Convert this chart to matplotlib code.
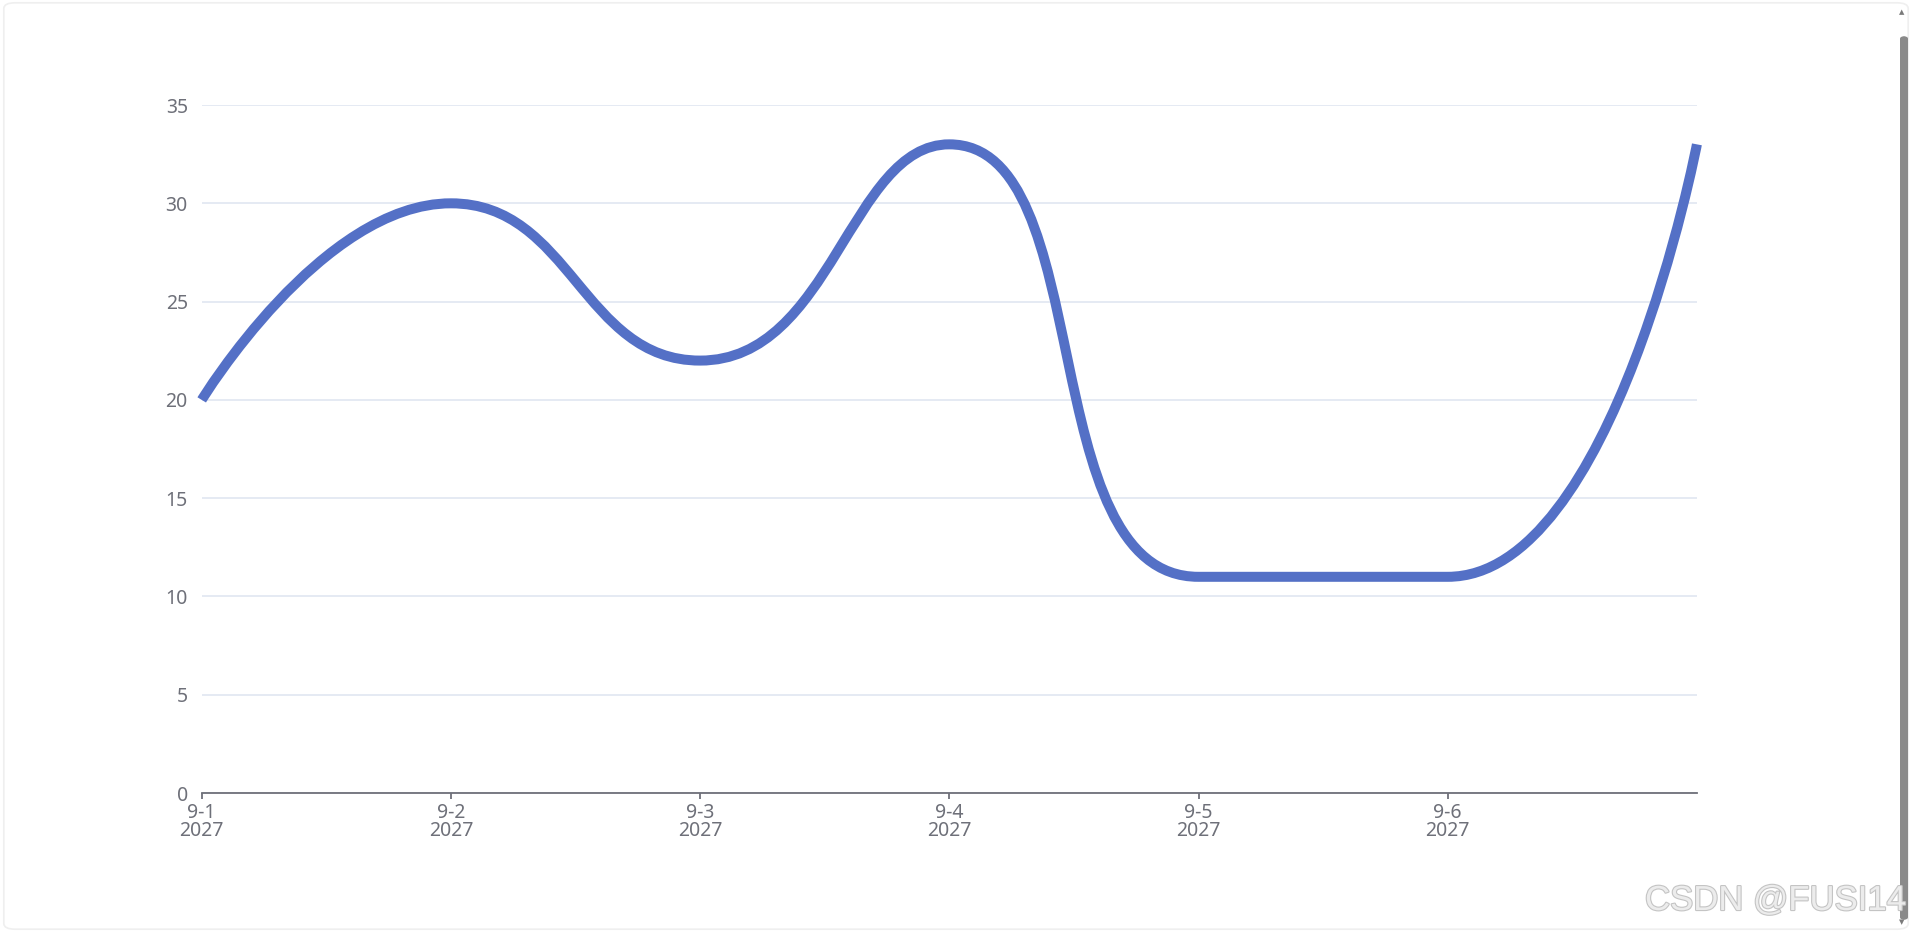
'''
plot.py
Smooth line chart (echarts style) for 9-1 .. 9-7 2027
'''

import numpy as np
import matplotlib.pyplot as plt
from matplotlib.path import Path
from matplotlib.patches import PathPatch, FancyBboxPatch
import matplotlib.patheffects as pe

plt.rcParams['font.family'] = ['Noto Sans', 'DejaVu Sans']

# Data
days = ['9-1', '9-2', '9-3', '9-4', '9-5', '9-6', '9-7']
year = '2027'
values = [20, 30, 22, 33, 11, 11, 33]
y_ticks = [0, 5, 10, 15, 20, 25, 30, 35]

LINE_COLOR = '#5470c6'
AXIS_COLOR = '#6e7079'
GRID_COLOR = '#e0e6f1'
SMOOTH = 0.5


# Echarts-like bezier smoothing, done in pixel space so lengths are right
def smooth_path(xs, ys, sx, sy, smooth=SMOOTH):
	px = np.asarray(xs, float) * sx
	py = np.asarray(ys, float) * sy
	n = len(px)
	verts = [(px[0], py[0])]
	codes = [Path.MOVETO]
	cp0x, cp0y = px[0], py[0]
	for i in range(1, n):
		x, y = px[i], py[i]
		prevX, prevY = px[i - 1], py[i - 1]
		if i == n - 1:
			cp1x, cp1y = x, y
			nxt0x, nxt0y = x, y
		else:
			nextX, nextY = px[i + 1], py[i + 1]
			vx = nextX - prevX
			vy = nextY - prevY
			lenPrev = np.hypot(x - prevX, y - prevY)
			lenNext = np.hypot(nextX - x, nextY - y)
			ratio = lenNext / (lenNext + lenPrev)
			nxt0x = x + vx * smooth * ratio
			nxt0y = y + vy * smooth * ratio
			nxt0x = max(min(nxt0x, max(nextX, x)), min(nextX, x))
			nxt0y = max(min(nxt0y, max(nextY, y)), min(nextY, y))
			vx = nxt0x - x
			vy = nxt0y - y
			cp1x = x - vx * lenPrev / lenNext
			cp1y = y - vy * lenPrev / lenNext
			cp1x = max(min(cp1x, max(prevX, x)), min(prevX, x))
			cp1y = max(min(cp1y, max(prevY, y)), min(prevY, y))
			vx = x - cp1x
			vy = y - cp1y
			nxt0x = x + vx * lenNext / lenPrev
			nxt0y = y + vy * lenNext / lenPrev
		verts += [(cp0x, cp0y), (cp1x, cp1y), (x, y)]
		codes += [Path.CURVE4] * 3
		cp0x, cp0y = nxt0x, nxt0y
	verts = np.array(verts)
	verts[:, 0] /= sx
	verts[:, 1] /= sy
	return Path(verts, codes)


fig = plt.figure(figsize=(19.12, 9.32), dpi=100)
ax = fig.add_axes([0.1055, 0.1491, 0.7820, 0.7382])

xs = np.arange(len(days))
ax.set_xlim(0, len(days) - 1)
ax.set_ylim(0, 35)

# pixel size of one data unit
sx = 0.7820 * 1912 / (len(days) - 1)
sy = 0.7382 * 932 / 35

path = smooth_path(xs, values, sx, sy)
ax.add_patch(PathPatch(path, fill=False, edgecolor=LINE_COLOR, linewidth=7.2,
	capstyle='butt', joinstyle='round', zorder=3, clip_on=False))

# axes styling
for s in ['top', 'right', 'left']:
	ax.spines[s].set_visible(False)
ax.spines['bottom'].set_color(AXIS_COLOR)
ax.spines['bottom'].set_linewidth(1.3)

ax.set_yticks(y_ticks)
ax.set_yticklabels([str(v) for v in y_ticks])
ax.yaxis.grid(True, color=GRID_COLOR, linewidth=1.2)
ax.set_axisbelow(True)
ax.tick_params(axis='y', length=0, pad=10, labelsize=14, labelcolor=AXIS_COLOR)

ax.set_xticks(xs[:-1])
ax.set_xticklabels([d + '\n' + year for d in days[:-1]], linespacing=0.9)
ax.tick_params(axis='x', length=4, width=1.3, color=AXIS_COLOR, pad=3,
	labelsize=14, labelcolor=AXIS_COLOR)

# window frame, scrollbar and watermark of the screenshot
fig.patches.append(FancyBboxPatch((0.002, 0.003), 0.996, 0.994,
	boxstyle='round,pad=0,rounding_size=0.006', transform=fig.transFigure,
	fill=False, edgecolor='#efefef', linewidth=1.2))
fig.patches.append(FancyBboxPatch((1900 / 1912, 1 - 920 / 932), 8 / 1912, 884 / 932,
	boxstyle='round,pad=0,rounding_size=0.003', transform=fig.transFigure,
	facecolor='#8a8a8a', edgecolor='none'))
fig.text(0.9945, 1 - 12 / 932, '\u25b2', color='#7a7a7a', fontsize=5,
	ha='center', va='center', family='DejaVu Sans')
fig.text(0.9945, 1 - 922 / 932, '\u25bc', color='#7a7a7a', fontsize=5,
	ha='center', va='center', family='DejaVu Sans')

fig.text(0.997, 1 - 910 / 932, 'CSDN @FUSI14', fontsize=25, color='#ececec',
	ha='right', va='baseline', family='Liberation Sans',
	path_effects=[pe.withStroke(linewidth=1.6, foreground='#c4c4c4')])

fig.savefig('out.png', dpi=100)
